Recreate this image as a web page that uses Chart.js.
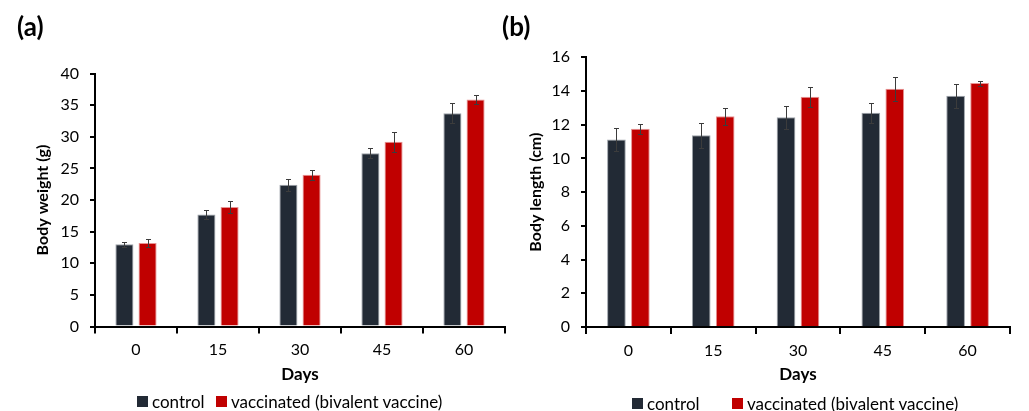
<!DOCTYPE html>
<html>
<head>
<meta charset="utf-8">
<script src="https://cdn.jsdelivr.net/npm/chart.js@4.4.1/dist/chart.umd.min.js"></script>
<style>
  html, body { margin: 0; padding: 0; background: #fff; }
  #wrap { position: relative; width: 1029px; height: 411px; overflow: hidden; background: #fff; }
  #wrap canvas { position: absolute; top: 0; }
  #cvA { left: 0; }
  #cvB { left: 490px; }
  .lg-item { position: absolute; height: 20px; display: flex; align-items: center;
             font-family: Lato, "DejaVu Sans", sans-serif; font-size: 17px; color: #000; white-space: nowrap; }
  .lg-box { display: inline-block; width: 11px; height: 11px; margin-right: 4px; }
</style>
</head>
<body>
<div id="wrap">
  <canvas id="cvA" width="515" height="411"></canvas>
  <canvas id="cvB" width="539" height="411"></canvas>
  <div id="legendA"></div>
  <div id="legendB"></div>
</div>
<script>
// Sampling days
const days = ['0', '15', '30', '45', '60'];

// Body weight (g): mean and error
const weightControl = [13.0, 17.7, 22.4, 27.4, 33.7];
const weightControlErr = [0.4, 0.7, 0.9, 0.8, 1.6];
const weightVaccinated = [13.2, 18.9, 24.0, 29.2, 35.9];
const weightVaccinatedErr = [0.7, 0.9, 0.8, 1.6, 0.7];

// Body length (cm): mean and error
const lengthControl = [11.13, 11.37, 12.44, 12.71, 13.72];
const lengthControlErr = [0.7, 0.75, 0.7, 0.6, 0.7];
const lengthVaccinated = [11.76, 12.51, 13.66, 14.13, 14.47];
const lengthVaccinatedErr = [0.3, 0.5, 0.6, 0.7, 0.15];

// Value-axis tick labels
const weightTicks = [0, 5, 10, 15, 20, 25, 30, 35, 40];
const lengthTicks = [0, 2, 4, 6, 8, 10, 12, 14, 16];

// Series names and colours
const seriesNames = ['control', 'vaccinated (bivalent vaccine)'];
const seriesColors = ['#222a35', '#c00000'];
const seriesEdges = ['#9ea4ab', '#e79393'];

const FONT = 'Lato, "DejaVu Sans", sans-serif';

// Draws mean ± error whiskers over each bar
const errorBars = {
  id: 'errorBars',
  afterDatasetsDraw(chart, args, opts) {
    const ctx = chart.ctx;
    const yScale = chart.scales.y;
    chart.data.datasets.forEach((ds, i) => {
      const meta = chart.getDatasetMeta(i);
      if (!ds.errors || meta.hidden) return;
      ctx.save();
      ctx.strokeStyle = opts.color;
      ctx.lineWidth = opts.width;
      meta.data.forEach((bar, j) => {
        const v = ds.data[j], e = ds.errors[j];
        const x = Math.round(bar.x) + 0.5;
        const top = Math.round(yScale.getPixelForValue(v + e)) + 0.5;
        const bot = Math.round(yScale.getPixelForValue(v - e)) + 0.5;
        ctx.beginPath();
        ctx.moveTo(x, top); ctx.lineTo(x, bot);
        ctx.moveTo(x - opts.cap, top); ctx.lineTo(x + opts.cap, top);
        ctx.moveTo(x - opts.cap, bot); ctx.lineTo(x + opts.cap, bot);
        ctx.stroke();
      });
      ctx.restore();
    });
  }
};

// Builds the legend as HTML from the chart's own legend items
const htmlLegend = {
  id: 'htmlLegend',
  afterUpdate(chart, args, opts) {
    const host = document.getElementById(opts.containerID);
    host.innerHTML = '';
    const items = chart.options.plugins.legend.labels.generateLabels(chart);
    items.forEach((item, k) => {
      const el = document.createElement('div');
      el.className = 'lg-item';
      el.style.left = opts.lefts[k] + 'px';
      el.style.top = opts.top + 'px';
      const box = document.createElement('span');
      box.className = 'lg-box';
      box.style.background = item.fillStyle;
      const txt = document.createElement('span');
      txt.textContent = item.text;
      el.appendChild(box);
      el.appendChild(txt);
      host.appendChild(el);
    });
  }
};

function makeChart(canvasId, cfg) {
  return new Chart(document.getElementById(canvasId), {
    type: 'bar',
    data: {
      labels: days,
      datasets: [
        { label: seriesNames[0], data: cfg.control, errors: cfg.controlErr,
          backgroundColor: seriesColors[0], borderColor: seriesEdges[0], borderWidth: 1,
          borderSkipped: 'bottom' },
        { label: seriesNames[1], data: cfg.vacc, errors: cfg.vaccErr,
          backgroundColor: seriesColors[1], borderColor: seriesEdges[1], borderWidth: 1,
          borderSkipped: 'bottom' }
      ]
    },
    options: {
      responsive: false,
      animation: false,
      layout: { padding: cfg.padding },
      datasets: { bar: { categoryPercentage: 0.565, barPercentage: 0.78 } },
      plugins: {
        legend: { display: false },
        tooltip: { enabled: false },
        title: {
          display: true, text: cfg.panel, align: 'start', color: '#000',
          font: { family: FONT, size: 26, weight: 'bold' },
          padding: { top: 12.4, bottom: cfg.titleGap }
        },
        errorBars: { color: '#3c3c3c', width: 1, cap: 2.5 },
        htmlLegend: { containerID: cfg.legendId, lefts: cfg.legendLefts, top: cfg.legendTop }
      },
      scales: {
        x: {
          offset: true,
          grid: { display: true, drawOnChartArea: false, drawTicks: true, tickLength: 7,
                  color: '#000', lineWidth: 2, offset: true },
          border: { display: true, color: '#000', width: 2 },
          ticks: { color: '#000', font: { family: FONT, size: 16 }, padding: 7 },
          title: { display: true, text: 'Days', color: '#000',
                   font: { family: FONT, size: 17, weight: 'bold' },
                   padding: { top: 0, bottom: cfg.daysGap } },
          afterFit(s) { s.height = cfg.xHeight; }
        },
        y: {
          min: cfg.ticks[0], max: cfg.ticks[cfg.ticks.length - 1],
          afterBuildTicks(s) { s.ticks = cfg.ticks.map(v => ({ value: v })); },
          grid: { display: true, drawOnChartArea: false, drawTicks: true, tickLength: 5,
                  color: '#000', lineWidth: 2 },
          border: { display: true, color: '#000', width: 2 },
          ticks: { color: '#000', font: { family: FONT, size: 16 }, padding: 11 },
          title: { display: true, text: cfg.yTitle, color: '#000',
                   font: { family: FONT, size: 16, weight: 'bold' },
                   padding: { top: cfg.yTitleGap, bottom: 0 } },
          afterFit(s) { s.width = cfg.yWidth; }
        }
      }
    },
    plugins: [errorBars, htmlLegend]
  });
}

makeChart('cvA', {
  panel: '(a)', yTitle: 'Body weight (g)',
  control: weightControl, controlErr: weightControlErr,
  vacc: weightVaccinated, vaccErr: weightVaccinatedErr,
  ticks: weightTicks,
  padding: { left: 17, right: 10, top: 0, bottom: 0 },
  titleGap: 29.9, yWidth: 78, yTitleGap: 16.4,
  xHeight: 84.5, daysGap: 25.8,
  legendId: 'legendA', legendLefts: [137, 216], legendTop: 391.5
});

makeChart('cvB', {
  panel: '(b)', yTitle: 'Body length (cm)',
  control: lengthControl, controlErr: lengthControlErr,
  vacc: lengthVaccinated, vaccErr: lengthVaccinatedErr,
  ticks: lengthTicks,
  padding: { left: 12, right: 19, top: 0, bottom: 0 },
  titleGap: 13.7, yWidth: 84, yTitleGap: 24.4,
  xHeight: 84, daysGap: 25.8,
  legendId: 'legendB', legendLefts: [632, 732], legendTop: 393.5
});
</script>
</body>
</html>
